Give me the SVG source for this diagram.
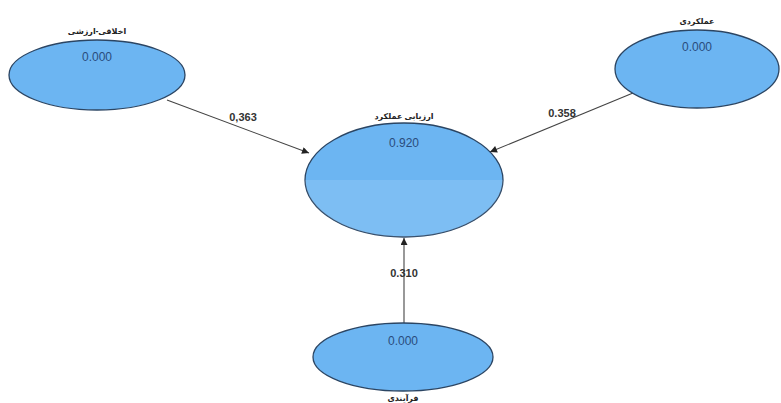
<svg xmlns="http://www.w3.org/2000/svg" width="781" height="403" viewBox="0 0 781 403">
<defs>
<marker id="ah" viewBox="0 0 10 10" refX="10" refY="5" markerWidth="9" markerHeight="7" orient="auto" markerUnits="userSpaceOnUse"><path d="M0,0 L10,5 L0,10 z" fill="#222"/></marker>
<style>
.node ellipse{fill:#6cb5f2;stroke:#2b4563;stroke-width:1.3}
.val{font-family:"Liberation Sans",Arial,sans-serif;font-size:12px;fill:#2a4c7c;text-anchor:middle}
.lbl{font-family:"Noto Sans","DejaVu Sans",sans-serif;font-size:8px;font-weight:bold;fill:#222;text-anchor:middle}
.w{font-family:"Liberation Sans",Arial,sans-serif;font-size:11px;font-weight:bold;fill:#333;text-anchor:middle}
.edge{stroke:#444;stroke-width:1.1;fill:none;marker-end:url(#ah)}
</style>
</defs>
<rect width="781" height="403" fill="#fff"/>
<g id="connectors">
<line class="edge" x1="167" y1="100" x2="309" y2="153"/>
<line class="edge" x1="633" y1="93" x2="490" y2="152"/>
<line class="edge" x1="404" y1="323" x2="404" y2="238"/>
<text class="w" x="243" y="121">0,363</text>
<text class="w" x="562" y="117">0.358</text>
<text class="w" x="404" y="277">0.310</text>
</g>
<g id="n_akhlaghi" class="node">
<text class="lbl" x="97" y="34" direction="rtl">اخلاقی-ارزشی</text>
<ellipse cx="97" cy="75" rx="88" ry="35"/>
<text class="val" x="97" y="61">0.000</text>
</g>
<g id="n_amalkardi" class="node">
<text class="lbl" x="697" y="24" direction="rtl">عملکردی</text>
<ellipse cx="697" cy="69" rx="82" ry="39"/>
<text class="val" x="697" y="51">0.000</text>
</g>
<g id="n_arzyabi" class="node">
<text class="lbl" x="404" y="119" direction="rtl">ارزیابی عملکرد</text>
<ellipse cx="404" cy="180" rx="99" ry="57"/>
<path d="M305,180 A99,57 0 0 0 503,180 Z" fill="#fff" opacity="0.12"/>
<text class="val" x="404" y="147">0.920</text>
</g>
<g id="n_farayandi" class="node">
<ellipse cx="403" cy="357" rx="90" ry="34"/>
<text class="val" x="403" y="345">0.000</text>
<text class="lbl" x="403" y="401" direction="rtl">فرآیندی</text>
</g>
</svg>
